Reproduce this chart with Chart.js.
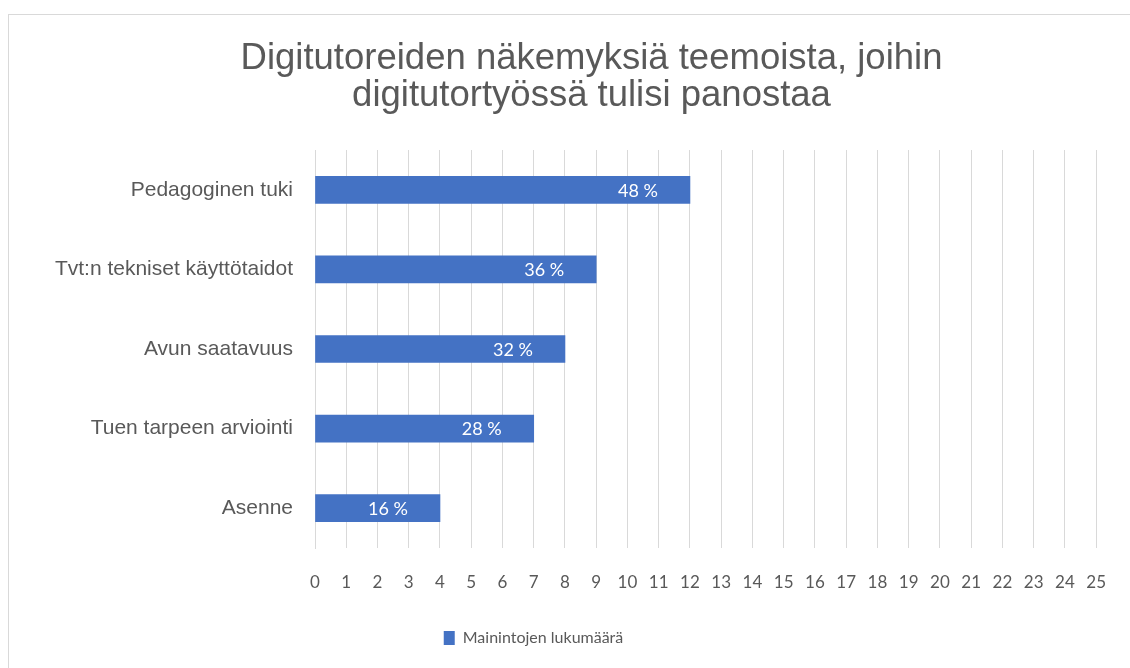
<!DOCTYPE html>
<html>
<head>
<meta charset="utf-8">
<script src="https://cdn.jsdelivr.net/npm/chart.js@4"></script>
<style>
  html, body { margin: 0; padding: 0; background: #fff; }
  .wrap { position: relative; width: 1130px; height: 668px; }
  .frame { position: absolute; left: 8px; top: 14px; width: 1140px; height: 670px; border: 1px solid #d9d9d9; }
  canvas { position: absolute; left: 0; top: 0; }
</style>
</head>
<body>
<div class="wrap">
  <div class="frame"></div>
  <canvas id="chart" width="1130" height="668"></canvas>
</div>
<script>
const categories = ['Pedagoginen tuki', 'Tvt:n tekniset käyttötaidot', 'Avun saatavuus', 'Tuen tarpeen arviointi', 'Asenne'];
const mentions = [12, 9, 8, 7, 4];
const shareLabels = ['48 %', '36 %', '32 %', '28 %', '16 %'];
const titleLines = ['Digitutoreiden näkemyksiä teemoista, joihin', 'digitutortyössä tulisi panostaa'];

// white labels inside the bar end
const barLabels = {
  id: 'barLabels',
  afterDatasetsDraw(chart) {
    const ctx = chart.ctx;
    const meta = chart.getDatasetMeta(0);
    ctx.save();
    ctx.font = '18px Lato';
    ctx.fillStyle = '#ffffff';
    ctx.textAlign = 'right';
    ctx.textBaseline = 'middle';
    meta.data.forEach((bar, i) => {
      ctx.fillText(shareLabels[i], bar.x - 32, bar.y + 1);
    });
    ctx.restore();
  }
};

// excel centres title and legend a bit differently than chart.js
const nudgeBlocks = {
  id: 'nudgeBlocks',
  beforeDraw(chart) {
    if (chart.titleBlock && !chart.titleBlock._nudged) {
      chart.titleBlock.left += 80;
      chart.titleBlock._nudged = true;
    }
    if (chart.legend && !chart.legend._nudged) {
      chart.legend.left -= 18;
      chart.legend.right -= 18;
      chart.legend._nudged = true;
    }
  }
};

new Chart(document.getElementById('chart'), {
  type: 'bar',
  data: {
    labels: categories,
    datasets: [{
      label: 'Mainintojen lukumäärä',
      data: mentions,
      backgroundColor: '#4472C4',
      borderWidth: 0,
      barThickness: 27,
    }],
  },
  options: {
    indexAxis: 'y',
    responsive: false,
    animation: false,
    layout: { padding: { left: 0, right: 27, top: 0, bottom: 12 } },
    scales: {
      x: {
        min: 0,
        max: 25,
        ticks: { stepSize: 1, color: '#595959', font: { family: 'Lato', size: 17 }, padding: 24 },
        grid: { color: '#d9d9d9', drawTicks: false },
        border: { display: false },
        afterFit(scale) { scale.height = 76; },
      },
      y: {
        ticks: { color: '#595959', font: { family: 'Liberation Sans', size: 21 }, padding: 22 },
        grid: { display: false, drawTicks: false },
        border: { color: '#d9d9d9' },
        afterFit(scale) { scale.width = 315; },
      },
    },
    plugins: {
      title: {
        display: true,
        text: titleLines,
        color: '#595959',
        font: { family: 'Liberation Sans', size: 36.5, weight: 'normal', lineHeight: 1.0 },
        padding: { top: 41, bottom: 36 },
      },
      legend: {
        position: 'bottom',
        labels: {
          color: '#595959',
          font: { family: 'Lato', size: 16 },
          boxWidth: 11,
          boxHeight: 14,
          padding: 6,
        },
      },
      tooltip: { enabled: false },
    },
  },
  plugins: [barLabels, nudgeBlocks],
});
</script>
</body>
</html>
